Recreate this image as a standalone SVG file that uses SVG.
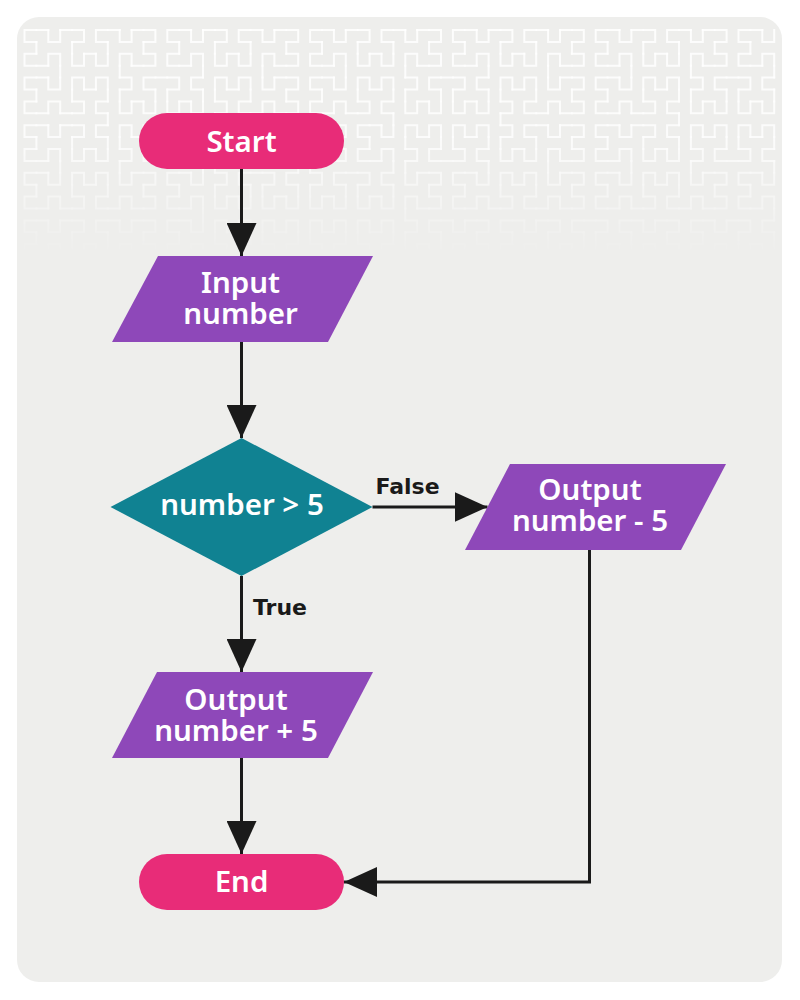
<svg xmlns="http://www.w3.org/2000/svg" xmlns:xlink="http://www.w3.org/1999/xlink" width="800" height="1000" viewBox="0 0 800 1000">
  <style>
    .node-text { font-family: "Noto Sans", "Open Sans", sans-serif; font-weight: 600; font-size: 29.5px; fill: #ffffff; text-anchor: middle; }
    .edge-label { font-family: "DejaVu Sans", "Noto Sans", sans-serif; font-weight: 700; font-size: 22px; fill: #1a1a1a; }
    .terminal { fill: #e82c78; }
    .io { fill: #8e48b9; }
    .decision { fill: #108292; }
    .edge { fill: none; stroke: #1a1a1a; stroke-width: 3; marker-end: url(#arrow); }
  </style>
  <defs>
    <marker id="arrow" markerUnits="userSpaceOnUse" markerWidth="34" markerHeight="30" refX="33" refY="15" orient="auto" viewBox="0 0 34 30">
      <path d="M0 0 L33 15 L0 30 Z" fill="#1a1a1a"/>
    </marker>
    <g id="h1"><polyline points="0,0 0,1 1,1 1,0"/></g>
    <g id="h2">
      <use xlink:href="#h1" href="#h1" transform="matrix(0 1 1 0 0 0)"/>
      <use xlink:href="#h1" href="#h1" transform="translate(0 2)"/>
      <use xlink:href="#h1" href="#h1" transform="translate(2 2)"/>
      <use xlink:href="#h1" href="#h1" transform="matrix(0 -1 -1 0 3 1)"/>
      <path d="M0 1V2M1 2H2M3 2V1"/>
    </g>
    <g id="h3">
      <use xlink:href="#h2" href="#h2" transform="matrix(0 1 1 0 0 0)"/>
      <use xlink:href="#h2" href="#h2" transform="translate(0 4)"/>
      <use xlink:href="#h2" href="#h2" transform="translate(4 4)"/>
      <use xlink:href="#h2" href="#h2" transform="matrix(0 -1 -1 0 7 3)"/>
      <path d="M0 3V4M3 4H4M7 4V3"/>
    </g>
    <g id="h4">
      <use xlink:href="#h3" href="#h3" transform="matrix(0 1 1 0 0 0)"/>
      <use xlink:href="#h3" href="#h3" transform="translate(0 8)"/>
      <use xlink:href="#h3" href="#h3" transform="translate(8 8)"/>
      <use xlink:href="#h3" href="#h3" transform="matrix(0 -1 -1 0 15 7)"/>
      <path d="M0 7V8M7 8H8M15 8V7"/>
    </g>
    <g id="h5">
      <use xlink:href="#h4" href="#h4" transform="matrix(0 1 1 0 0 0)"/>
      <use xlink:href="#h4" href="#h4" transform="translate(0 16)"/>
      <use xlink:href="#h4" href="#h4" transform="translate(16 16)"/>
      <use xlink:href="#h4" href="#h4" transform="matrix(0 -1 -1 0 31 15)"/>
      <path d="M0 15V16M15 16H16M31 16V15"/>
    </g>
    <g id="h6">
      <use xlink:href="#h5" href="#h5" transform="matrix(0 1 1 0 0 0)"/>
      <use xlink:href="#h5" href="#h5" transform="translate(0 32)"/>
      <use xlink:href="#h5" href="#h5" transform="translate(32 32)"/>
      <use xlink:href="#h5" href="#h5" transform="matrix(0 -1 -1 0 63 31)"/>
      <path d="M0 31V32M31 32H32M63 32V31"/>
    </g>
    <linearGradient id="fadeGrad" gradientUnits="userSpaceOnUse" x1="0" y1="20" x2="0" y2="258">
      <stop offset="0" stop-color="#fff"/>
      <stop offset="0.5" stop-color="#fff" stop-opacity="0.9"/>
      <stop offset="1" stop-color="#fff" stop-opacity="0"/>
    </linearGradient>
    <mask id="fade" maskUnits="userSpaceOnUse" x="0" y="0" width="800" height="300">
      <rect x="0" y="0" width="800" height="300" fill="url(#fadeGrad)"/>
    </mask>
    <clipPath id="bgClip"><rect x="17" y="17" width="765" height="965" rx="22"/></clipPath>
  </defs>

  <rect id="background" x="17" y="17" width="765" height="965" rx="22" fill="#eeeeec"/>
  <g id="pattern" clip-path="url(#bgClip)" mask="url(#fade)">
    <g transform="translate(24.5 30) scale(11.9)" fill="none" stroke="#ffffff" stroke-opacity="0.85" stroke-width="0.17" stroke-linecap="square" stroke-linejoin="miter">
      <use xlink:href="#h6" href="#h6" transform="matrix(0 1 -1 0 63 0)"/>
    </g>
  </g>

  <g id="connectors">
    <path class="edge" d="M241.5 169 V256"/>
    <path class="edge" d="M241.5 342 V438"/>
    <path class="edge" d="M372.5 507 H487.5"/>
    <path class="edge" d="M241.5 576 V672"/>
    <path class="edge" d="M241.5 758 V854"/>
    <path class="edge" d="M589.5 550 V882 H344"/>
    <text class="edge-label" x="407.5" y="494" text-anchor="middle">False</text>
    <text class="edge-label" x="253" y="615">True</text>
  </g>

  <g id="start">
    <rect class="terminal" x="139" y="113" width="205" height="56" rx="28"/>
    <text class="node-text" x="241.5" y="152">Start</text>
  </g>
  <g id="input">
    <polygon class="io" points="158,256 373,256 328,342 112,342"/>
    <text class="node-text"><tspan x="240.5" y="293">Input</tspan><tspan x="240.5" y="324">number</tspan></text>
  </g>
  <g id="decision">
    <polygon class="decision" points="241.5,438 372.5,507 241.5,576 110.5,507"/>
    <text class="node-text" x="242" y="515">number &gt; 5</text>
  </g>
  <g id="output-minus">
    <polygon class="io" points="510,464 726,464 681,550 465,550"/>
    <text class="node-text"><tspan x="590" y="500">Output</tspan><tspan x="590" y="531">number - 5</tspan></text>
  </g>
  <g id="output-plus">
    <polygon class="io" points="157,672 373,672 328,758 112,758"/>
    <text class="node-text"><tspan x="236" y="710">Output</tspan><tspan x="236" y="741">number + 5</tspan></text>
  </g>
  <g id="end">
    <rect class="terminal" x="139" y="854" width="205" height="56" rx="28"/>
    <text class="node-text" x="241.5" y="892">End</text>
  </g>
</svg>
